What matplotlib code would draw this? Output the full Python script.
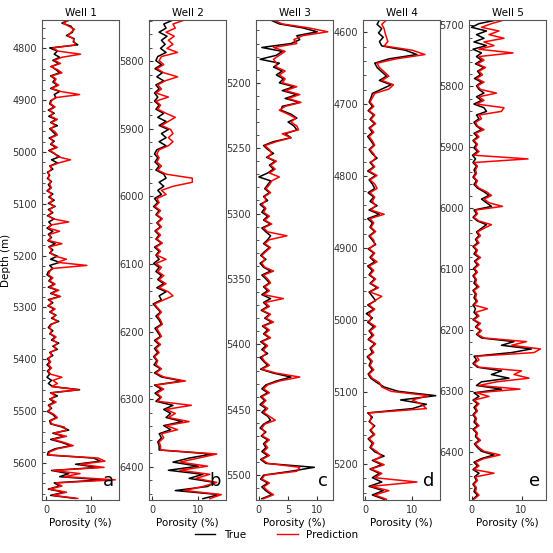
import numpy as np
import matplotlib
matplotlib.use("Agg")
import matplotlib.pyplot as plt
from matplotlib.ticker import AutoMinorLocator, MultipleLocator
from matplotlib.lines import Line2D

## porosity logs (true vs prediction), one array per well
depth1 = np.arange(4745, 5672, 6)
true1 = [5.0, 3.5, 5.5, 6.0, 5.8, 4.5, 6.2, 6.0, 7.0, 0.8,
         2.5, 1.8, 3.0, 1.5, 2.8, 1.2, 2.2, 3.0, 1.0, 2.0,
         1.5, 2.5, 1.0, 3.0, 1.8, 2.2, 1.0, 0.8, 1.8, 0.5,
         1.8, 0.6, 2.2, 1.0, 2.5, 0.8, 1.5, 2.2, 0.7, 1.8,
         1.0, 2.2, 0.6, 1.8, 3.0, 1.2, 2.5, 0.8, 1.5, 0.3,
         0.8, 0.3, 1.2, 0.5, 1.0, 0.2, 1.5, 0.6, 1.8, 0.5,
         2.0, 0.5, 1.5, 0.3, 1.8, 0.6, 1.2, 0.2, 1.5, 0.5,
         1.2, 0.4, 2.0, 0.6, 1.5, 0.8, 2.5, 1.0, 3.0, 0.8,
         1.5, 0.5, 0.2, 1.2, 0.6, 1.8, 0.5, 2.5, 1.0, 3.0,
         0.5, 1.5, 0.4, 1.8, 0.8, 2.2, 1.2, 2.8, 1.0, 0.5,
         1.5, 0.8, 2.0, 1.2, 2.8, 1.5, 2.5, 0.8, 1.5, 0.3,
         0.8, 0.2, 1.0, 0.3, 0.8, 0.2, 1.2, 0.5, 1.5, 7.4,
         1.0, 2.5, 0.8, 1.8, 0.5, 1.2, 0.3, 1.5, 2.2, 0.8,
         1.0, 3.5, 5.0, 1.5, 4.0, 1.0, 3.5, 5.5, 2.0, 0.5,
         0.3, 10.5, 12.0, 6.5, 11.5, 1.2, 5.0, 3.0, 12.5, 1.8,
         3.0, 0.5, 4.0, 1.0, 6.5]
pred1 = [5.2, 3.8, 5.0, 6.3, 5.5, 4.8, 6.0, 6.2, 6.5, 1.5,
         2.6, 7.6, 3.5, 1.8, 3.2, 1.0, 2.5, 3.5, 1.2, 2.2,
         1.8, 2.8, 1.2, 3.2, 7.4, 2.0, 1.2, 1.0, 2.0, 0.8,
         1.5, 1.0, 2.5, 1.2, 2.0, 1.0, 2.0, 2.5, 1.0, 1.5,
         1.2, 2.5, 0.8, 2.0, 2.5, 5.4, 2.8, 1.0, 1.2, 0.5,
         0.6, 0.5, 1.0, 0.8, 1.2, 0.4, 1.2, 0.9, 1.5, 0.8,
         1.8, 0.8, 1.2, 0.5, 1.5, 5.0, 1.0, 0.5, 3.0, 0.8,
         1.0, 0.6, 3.5, 0.8, 1.2, 1.0, 2.0, 4.5, 2.5, 9.0,
         1.2, 0.8, 0.5, 1.5, 0.8, 2.0, 0.8, 2.8, 1.2, 3.2,
         0.8, 1.2, 0.6, 2.0, 1.0, 2.0, 1.5, 2.5, 1.2, 0.8,
         1.2, 1.0, 2.2, 1.5, 2.5, 1.8, 2.2, 1.0, 1.2, 0.5,
         1.0, 0.5, 1.2, 0.5, 1.0, 3.5, 1.5, 2.5, 1.2, 7.2,
         1.2, 2.0, 1.0, 2.2, 0.8, 1.0, 0.5, 1.8, 2.5, 1.0,
         1.2, 4.0, 4.5, 1.8, 4.5, 1.5, 4.0, 6.0, 2.5, 0.8,
         0.5, 11.5, 13.0, 7.5, 12.8, 1.5, 7.5, 4.0, 15.3, 2.2,
         3.5, 0.8, 4.5, 1.5, 7.0]

depth2 = np.arange(5739, 6449, 6)
true2 = [4.5, 2.5, 3.0, 1.5, 3.2, 2.0, 2.8, 1.8, 3.0, 1.2,
         0.8, 2.0, 0.6, 2.2, 1.0, 2.5, 0.8, 1.5, 0.5, 1.2,
         0.5, 1.5, 0.8, 2.5, 1.2, 3.0, 1.5, 3.5, 2.0, 3.0,
         1.5, 3.0, 1.0, 0.5, 1.2, 0.6, 1.5, 0.8, 2.5, 3.0,
         1.5, 2.5, 1.2, 2.0, 0.5, 1.2, 0.3, 1.5, 0.8, 2.0,
         1.0, 1.8, 0.6, 1.5, 0.8, 2.0, 0.5, 1.5, 0.8, 1.5,
         0.3, 1.5, 0.8, 2.0, 1.2, 2.5, 1.0, 3.0, 1.5, 2.0,
         0.2, 1.0, 1.8, 0.8, 1.5, 2.0, 0.6, 1.2, 1.8, 0.5,
         1.5, 0.5, 1.2, 0.3, 1.0, 0.4, 1.8, 0.5, 2.0, 6.5,
         0.5, 2.0, 0.6, 1.8, 0.8, 4.5, 2.5, 4.0, 3.0, 6.5,
         2.5, 4.0, 1.5, 2.0, 1.2, 1.5, 1.5, 13.0, 8.0, 4.5,
         10.0, 3.5, 11.0, 8.0, 13.5, 12.0, 5.0, 14.5, 11.0]
pred2 = [7.0, 4.5, 5.0, 3.0, 4.8, 3.5, 4.5, 3.2, 5.5, 2.0,
         1.5, 2.5, 1.0, 2.5, 5.5, 2.8, 1.2, 2.0, 0.8, 3.5,
         0.8, 1.8, 1.2, 3.0, 5.0, 3.5, 2.0, 4.0, 4.5, 3.5,
         4.5, 3.5, 1.5, 1.0, 1.5, 1.0, 2.0, 1.2, 3.0, 8.7,
         8.7, 4.5, 2.0, 3.0, 1.0, 1.5, 0.6, 1.8, 1.0, 2.2,
         1.2, 2.0, 0.8, 1.8, 1.0, 2.2, 0.8, 1.8, 1.0, 3.0,
         0.8, 2.0, 1.2, 2.5, 1.5, 3.0, 1.5, 3.5, 4.5, 2.5,
         0.5, 1.2, 2.0, 1.2, 1.8, 2.2, 1.0, 1.5, 2.0, 0.8,
         1.8, 0.8, 1.5, 0.5, 1.2, 0.8, 2.0, 0.8, 2.5, 7.2,
         0.8, 2.5, 1.0, 2.0, 1.2, 8.5, 3.0, 5.0, 3.5, 8.0,
         3.0, 5.5, 2.0, 2.5, 1.5, 1.8, 1.8, 14.0, 10.0, 6.0,
         12.0, 6.0, 12.5, 9.5, 14.0, 11.0, 7.0, 15.0, 12.5]

depth3 = np.arange(5152, 5519, 3)
true3 = [2.0, 3.5, 7.5, 10.0, 6.5, 7.0, 5.5, 0.5, 4.0, 3.0,
         0.2, 3.5, 2.5, 4.0, 3.0, 4.2, 3.5, 6.0, 4.0, 6.5,
         4.5, 7.0, 4.0, 3.8, 5.5, 6.5, 5.0, 6.0, 6.5, 4.5,
         5.5, 2.5, 0.8, 1.5, 2.5, 1.3, 2.8, 1.8, 2.5, 1.5,
         0.0, 2.0, 1.5, 1.0, 1.8, 0.8, 1.5, 0.2, 1.0, 0.5,
         1.5, 0.8, 2.0, 0.5, 1.2, 2.0, 1.5, 0.8, 1.8, 1.0,
         0.3, 1.2, 0.2, 0.8, 2.0, 0.5, 1.2, 1.8, 0.8, 1.5,
         0.5, 2.0, 0.8, 1.5, 0.4, 1.8, 1.0, 2.2, 0.6, 1.5,
         0.8, 1.8, 0.3, 1.2, 0.5, 1.5, 0.2, 0.8, 1.5, 0.3,
         2.5, 5.5, 3.0, 1.2, 0.5, 1.5, 0.3, 1.0, 0.2, 1.2,
         0.5, 1.5, 2.0, 0.8, 0.2, 1.2, 0.4, 1.5, 0.8, 1.2,
         0.5, 1.5, 0.3, 1.2, 9.5, 5.5, 0.8, 0.3, 1.5, 0.5,
         1.2, 2.2, 0.5]
pred3 = [2.5, 4.0, 8.5, 11.8, 7.5, 6.0, 6.5, 2.5, 4.5, 3.5,
         2.5, 3.0, 3.0, 4.5, 3.5, 4.5, 4.0, 6.5, 4.5, 7.0,
         5.0, 7.2, 4.5, 3.5, 5.0, 6.3, 5.5, 6.5, 6.8, 4.0,
         5.5, 3.0, 1.0, 1.8, 2.2, 1.5, 3.0, 2.0, 2.8, 1.8,
         3.5, 2.2, 1.8, 1.2, 2.0, 1.0, 1.2, 0.5, 1.2, 0.8,
         1.8, 1.0, 2.2, 0.8, 1.5, 4.8, 1.8, 1.0, 2.0, 1.2,
         0.5, 1.0, 0.5, 1.0, 2.5, 0.8, 1.5, 2.0, 1.0, 1.8,
         0.8, 4.2, 1.0, 1.8, 0.6, 2.0, 1.2, 2.5, 0.8, 1.8,
         1.0, 2.0, 0.5, 1.5, 0.8, 1.2, 0.5, 1.0, 1.8, 0.5,
         3.0, 7.0, 3.5, 1.5, 0.8, 1.8, 0.5, 1.2, 0.5, 1.5,
         0.8, 1.8, 2.8, 1.0, 0.5, 1.0, 0.6, 1.8, 1.0, 1.5,
         0.8, 1.8, 0.5, 1.5, 7.0, 6.5, 1.0, 0.5, 1.8, 0.8,
         1.5, 2.5, 0.8]

depth4 = np.arange(4583, 5250, 6)
true4 = [3.0, 2.5, 3.5, 2.8, 3.8, 3.0, 3.5, 8.5, 11.0, 5.0,
         2.0, 2.5, 3.5, 4.5, 3.0, 5.5, 3.5, 1.5, 1.2, 0.8,
         1.5, 0.6, 1.8, 1.0, 2.0, 0.8, 1.5, 0.5, 1.2, 1.8,
         0.8, 1.5, 2.5, 1.0, 1.8, 0.5, 2.2, 0.8, 1.5, 2.0,
         0.6, 1.8, 1.0, 2.5, 0.8, 3.0, 0.5, 1.5, 1.0, 2.0,
         0.8, 1.5, 2.2, 0.6, 1.8, 1.0, 2.0, 0.5, 1.5, 0.8,
         2.0, 1.0, 2.5, 0.8, 1.5, 2.2, 0.5, 1.8, 0.2, 1.5,
         0.5, 1.8, 0.8, 1.5, 0.6, 2.0, 1.0, 1.5, 0.4, 1.2,
         0.8, 1.5, 0.6, 1.2, 2.5, 4.0, 7.0, 15.0, 7.5, 13.0,
         10.0, 0.5, 1.5, 0.8, 2.0, 1.0, 1.8, 0.6, 1.5, 1.0,
         2.0, 4.0, 1.5, 3.5, 1.0, 3.0, 1.5, 3.5, 0.8, 3.8,
         1.5, 4.0]
pred4 = [4.5, 3.5, 4.0, 4.2, 4.5, 4.8, 4.0, 10.0, 12.7, 6.5,
         2.5, 3.0, 4.0, 5.0, 3.5, 6.0, 5.0, 2.0, 1.5, 1.0,
         1.8, 0.8, 2.0, 1.2, 2.2, 1.0, 1.8, 0.8, 1.5, 2.0,
         1.0, 1.8, 2.2, 1.2, 2.0, 0.8, 2.5, 1.0, 2.0, 2.5,
         1.0, 2.0, 1.5, 2.2, 1.2, 4.0, 1.0, 1.8, 1.2, 2.2,
         1.0, 1.8, 2.0, 0.8, 2.0, 1.2, 2.5, 0.8, 1.8, 1.0,
         2.2, 1.2, 2.8, 1.0, 3.5, 2.0, 0.8, 2.0, 0.8, 1.2,
         0.8, 2.2, 1.0, 1.8, 0.8, 2.2, 1.2, 1.8, 0.6, 1.5,
         1.0, 1.8, 0.8, 1.5, 3.0, 3.5, 5.5, 13.5, 10.0, 12.0,
         13.0, 0.8, 1.2, 1.0, 1.8, 1.2, 2.0, 0.8, 1.8, 1.2,
         2.5, 3.5, 1.8, 4.0, 1.2, 3.5, 2.0, 11.0, 1.2, 5.0,
         2.0, 4.5]

depth5 = np.arange(5691, 6479, 6)
true5 = [5.0, 1.5, 0.0, 3.0, 1.0, 2.5, 0.5, 3.0, 0.3, 2.0,
         1.0, 2.0, 0.8, 2.5, 1.2, 1.8, 0.6, 2.0, 1.0, 1.5,
         2.5, 1.0, 2.0, 0.5, 2.5, 3.0, 1.0, 1.5, 0.5, 1.0,
         2.0, 0.5, 1.2, 0.3, 1.0, 0.5, 1.2, 0.2, 0.8, 0.3,
         1.0, 0.5, 0.8, 0.3, 1.0, 0.5, 1.2, 2.5, 3.5, 2.0,
         3.0, 4.0, 0.5, 1.0, 0.3, 1.2, 3.0, 2.0, 1.0, 1.5,
         0.8, 1.2, 0.3, 1.0, 0.5, 1.5, 0.6, 1.2, 0.4, 1.0,
         0.3, 0.8, 0.5, 1.2, 0.3, 0.8, 0.5, 1.0, 0.3, 0.8,
         0.5, 1.2, 0.3, 1.5, 0.8, 1.8, 1.0, 2.0, 8.5, 6.0,
         12.0, 8.0, 0.5, 1.0, 0.3, 1.2, 6.0, 4.0, 7.5, 2.0,
         1.0, 6.0, 0.5, 1.5, 0.3, 1.2, 0.5, 1.0, 0.3, 0.8,
         0.5, 1.2, 0.3, 1.0, 0.8, 1.5, 0.6, 1.2, 2.0, 4.5,
         2.0, 0.5, 1.2, 0.3, 1.5, 0.6, 1.0, 0.3, 0.8, 0.5,
         1.2, 0.4]
pred5 = [6.5, 4.0, 2.0, 5.5, 3.5, 6.5, 2.5, 4.5, 1.5, 8.3,
         1.5, 2.5, 1.2, 2.8, 1.5, 2.2, 1.0, 2.5, 1.2, 1.8,
         5.0, 1.5, 2.5, 1.0, 6.5, 6.0, 1.5, 2.0, 0.8, 1.2,
         2.5, 0.8, 1.5, 0.5, 1.2, 0.8, 1.5, 0.5, 11.3, 0.5,
         1.2, 0.8, 1.0, 0.5, 1.2, 0.8, 1.5, 3.0, 4.0, 2.5,
         3.5, 6.2, 0.8, 1.2, 0.5, 1.5, 4.0, 2.5, 1.2, 1.8,
         1.0, 1.5, 0.5, 1.2, 0.8, 1.8, 0.8, 1.5, 0.6, 1.2,
         0.5, 1.0, 0.8, 1.5, 0.5, 1.0, 0.8, 1.2, 0.5, 3.2,
         0.8, 1.5, 0.5, 1.8, 1.0, 2.0, 1.2, 2.5, 11.0, 8.0,
         13.8, 12.5, 1.0, 1.5, 0.5, 1.5, 10.0, 8.5, 11.5, 5.0,
         1.5, 9.7, 1.0, 3.5, 0.5, 1.5, 0.8, 1.2, 0.5, 1.0,
         0.8, 1.5, 0.5, 1.2, 1.0, 1.8, 0.8, 1.5, 2.5, 5.7,
         2.5, 0.8, 1.5, 0.5, 4.5, 0.8, 1.2, 0.5, 1.0, 0.8,
         1.5, 0.6]

wells = ['Well 1', 'Well 2', 'Well 3', 'Well 4', 'Well 5']
letters = ['a', 'b', 'c', 'd', 'e']
depths = [depth1, depth2, depth3, depth4, depth5]
trues = [true1, true2, true3, true4, true5]
preds = [pred1, pred2, pred3, pred4, pred5]
ylims = [(4745, 5672), (5739, 6449), (5152, 5519), (4583, 5250), (5691, 6479)]
ysteps = [100, 100, 50, 100, 100]
xlims = [(-0.9, 16.1), (-0.7, 16.0), (-0.5, 12.7), (-0.5, 15.9), (-0.5, 14.9)]
xticks = [[0, 10], [0, 10], [0, 5, 10], [0, 10], [0, 10]]

fig = plt.figure(figsize=(5.53, 5.53), dpi=100)
lefts = [42, 149, 256, 363, 469]

for k in range(5):
    ax = fig.add_axes([lefts[k] / 553, 53 / 553, 77 / 553, 480 / 553])
    ax.plot(trues[k], depths[k], color='black', lw=1.1)
    ax.plot(preds[k], depths[k], color='red', lw=1.1)
    ax.set_ylim(ylims[k][1], ylims[k][0])
    ax.set_xlim(*xlims[k])
    ax.set_xticks(xticks[k])
    ax.yaxis.set_major_locator(MultipleLocator(ysteps[k]))
    ax.yaxis.set_minor_locator(AutoMinorLocator())
    ax.tick_params(axis='both', which='both', direction='in', labelsize=7, colors='#333333')
    ax.tick_params(which='major', length=3)
    ax.tick_params(which='minor', length=2)
    for s in ax.spines.values():
        s.set_color('#555555')
    ax.set_title(wells[k], fontsize=7.5, pad=3)
    ax.set_xlabel('Porosity (%)', fontsize=7.5, labelpad=2)
    ax.text(0.93, 0.02, letters[k], transform=ax.transAxes, fontsize=13,
            ha='right', va='bottom')
    if k == 0:
        ax.set_ylabel('Depth (m)', fontsize=7.5)
        ax.yaxis.set_label_coords(-0.40, 0.5)

handles = [Line2D([], [], color='black', lw=1.0), Line2D([], [], color='red', lw=1.0)]
fig.legend(handles, ['True', 'Prediction'], loc='center', bbox_to_anchor=(0.5, 18 / 553),
           ncol=2, frameon=False, fontsize=7.5, columnspacing=3, handlelength=2)

plt.savefig('out.png', dpi=100)
